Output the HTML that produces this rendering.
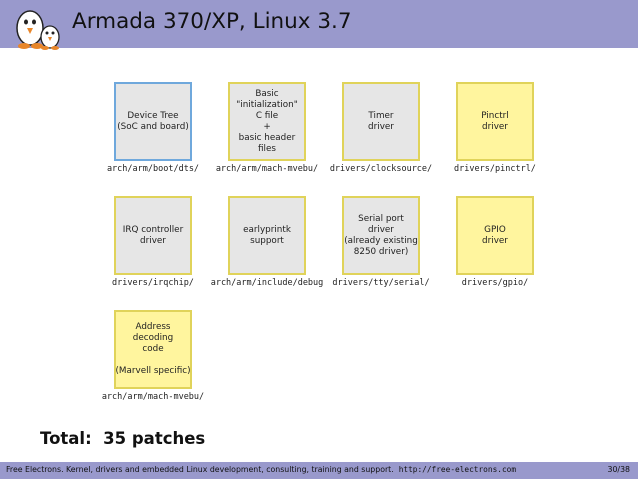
<!DOCTYPE html>
<html><head><style>
body{margin:0;width:638px;height:479px;position:relative;background:#fff;font-family:"DejaVu Sans","Liberation Sans",sans-serif;overflow:hidden}
.hdr{position:absolute;left:0;top:0;width:638px;height:48px;background:#9999cc}
.title{position:absolute;left:72px;top:9px;font-size:21.5px;color:#111;font-family:"DejaVu Sans",sans-serif}
.box{position:absolute;width:74px;height:75px;border:2px solid #e0d35a;background:#fff59e;display:flex;align-items:center;justify-content:center;text-align:center;font-size:8.8px;line-height:11px;color:#222;white-space:nowrap}
.g{background:#e6e6e6}
.b{border-color:#6fa8dc}
.lbl{position:absolute;width:140px;text-align:center;font-family:"DejaVu Sans Mono","Liberation Mono",monospace;font-size:8.5px;color:#222}
.ftr{position:absolute;left:0;top:462px;width:638px;height:17px;background:#9999cc;font-size:7.8px;color:#111}
</style></head><body>
<div class="hdr"></div>
<svg style="position:absolute;left:10px;top:6px" width="55" height="48">
<ellipse cx="20" cy="22" rx="13" ry="17" fill="#fff" stroke="#222" stroke-width="1.5"/>
<ellipse cx="16" cy="16" rx="2" ry="2.5" fill="#222"/><ellipse cx="24" cy="16" rx="2" ry="2.5" fill="#222"/>
<path d="M17 22 L23 22 L20 28Z" fill="#e8862a"/>
<ellipse cx="14" cy="40" rx="6" ry="3" fill="#e8862a"/><ellipse cx="27" cy="40" rx="6" ry="3" fill="#e8862a"/>
<ellipse cx="40" cy="31" rx="9" ry="11" fill="#fff" stroke="#222" stroke-width="1.3"/>
<circle cx="37" cy="27" r="1.5" fill="#222"/><circle cx="43" cy="27" r="1.5" fill="#222"/>
<path d="M38 31 L42 31 L40 35Z" fill="#e8862a"/>
<ellipse cx="35" cy="42" rx="4" ry="2" fill="#e8862a"/><ellipse cx="45" cy="42" rx="4" ry="2" fill="#e8862a"/>
</svg>
<div class="title">Armada 370/XP, Linux 3.7</div>

<div class="box g b" style="left:114px;top:82px">Device Tree<br>(SoC and board)</div>
<div class="lbl" style="left:83px;top:164px">arch/arm/boot/dts/</div>
<div class="box g" style="left:228px;top:82px">Basic<br>"initialization"<br>C file<br>+<br>basic header<br>files</div>
<div class="lbl" style="left:197px;top:164px">arch/arm/mach-mvebu/</div>
<div class="box g" style="left:342px;top:82px">Timer<br>driver</div>
<div class="lbl" style="left:311px;top:164px">drivers/clocksource/</div>
<div class="box" style="left:456px;top:82px">Pinctrl<br>driver</div>
<div class="lbl" style="left:425px;top:164px">drivers/pinctrl/</div>

<div class="box g" style="left:114px;top:196px">IRQ controller<br>driver</div>
<div class="lbl" style="left:83px;top:278px">drivers/irqchip/</div>
<div class="box g" style="left:228px;top:196px">earlyprintk<br>support</div>
<div class="lbl" style="left:197px;top:278px">arch/arm/include/debug</div>
<div class="box g" style="left:342px;top:196px">Serial port<br>driver<br>(already existing<br>8250 driver)</div>
<div class="lbl" style="left:311px;top:278px">drivers/tty/serial/</div>
<div class="box" style="left:456px;top:196px">GPIO<br>driver</div>
<div class="lbl" style="left:425px;top:278px">drivers/gpio/</div>

<div class="box" style="left:114px;top:310px">Address<br>decoding<br>code<br><br>(Marvell specific)</div>
<div class="lbl" style="left:83px;top:392px">arch/arm/mach-mvebu/</div>

<div style="position:absolute;left:40px;top:429px;font-size:16.5px;font-weight:bold;color:#111">Total: &nbsp;35 patches</div>

<div class="ftr"><span style="position:absolute;left:6px;top:3px">Free Electrons. Kernel, drivers and embedded Linux development, consulting, training and support. &nbsp;<span style="font-family:'DejaVu Sans Mono',monospace">http://free-electrons.com</span></span><span style="position:absolute;right:8px;top:3px">30/38</span></div>
</body></html>
